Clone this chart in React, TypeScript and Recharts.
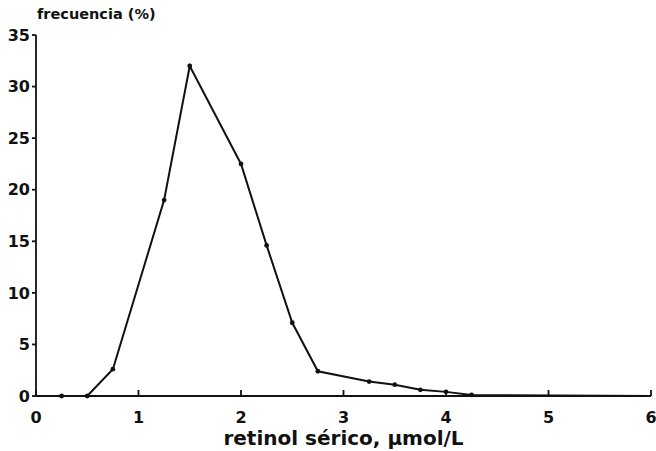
import React from 'react';
import { LineChart, Line, XAxis, YAxis } from 'recharts';

const xValues = [0, 0.25, 0.5, 0.75, 1.25, 1.5, 2, 2.25, 2.5, 2.75, 3.25, 3.5, 3.75, 4, 4.25, 6];
const freqValues = [0, 0, 0, 2.6, 19, 32, 22.5, 14.6, 7.1, 2.4, 1.4, 1.1, 0.6, 0.4, 0.1, 0];
const xTicks = [0, 1, 2, 3, 4, 5, 6];
const yTicks = [0, 5, 10, 15, 20, 25, 30, 35];

const data = xValues.map((x, i) => ({ x, y: freqValues[i] }));

const FONT = '"DejaVu Sans", sans-serif';

const Dot = (props: any) => {
  const { cx, cy, index } = props;
  if (index === 0 || index === data.length - 1) return <g key={index} />;
  return <circle key={index} cx={cx} cy={cy} r={2.4} fill="#111" />;
};

export default function App() {
  return (
    <div style={{ position: 'absolute', left: 0, top: 0, background: '#fff' }}>
      <LineChart width={656} height={451} data={data} margin={{ top: 35, right: 5, bottom: 0, left: 0 }}>
        <XAxis
          dataKey="x"
          type="number"
          domain={[0, 6]}
          ticks={xTicks}
          height={55}
          tickSize={-6}
          tickMargin={22}
          stroke="#111"
          strokeWidth={1.8}
          tick={{ fill: '#111', fontSize: 16, fontWeight: 'bold', fontFamily: FONT }}
          label={{
            content: (p: any) => {
              const vb = p.viewBox;
              return (
                <text x={vb.x + vb.width / 2} y={vb.y + 49} textAnchor="middle" fill="#111"
                  fontSize={20} fontWeight="bold" fontFamily={FONT}>
                  retinol sérico, μmol/L
                </text>
              );
            },
          }}
        />
        <YAxis
          dataKey="y"
          type="number"
          domain={[0, 35]}
          ticks={yTicks}
          width={36}
          tickSize={4}
          tickMargin={2}
          stroke="#111"
          strokeWidth={1.8}
          tick={{ fill: '#111', fontSize: 16, fontWeight: 'bold', fontFamily: FONT }}
          label={{
            content: (p: any) => {
              const vb = p.viewBox;
              return (
                <text x={vb.x + vb.width + 1} y={vb.y - 16} textAnchor="start" fill="#111"
                  fontSize={14.5} fontWeight="bold" fontFamily={FONT}>
                  frecuencia (%)
                </text>
              );
            },
          }}
        />
        <Line
          type="linear"
          dataKey="y"
          stroke="#111"
          strokeWidth={2}
          dot={Dot}
          activeDot={false}
          isAnimationActive={false}
        />
      </LineChart>
    </div>
  );
}
